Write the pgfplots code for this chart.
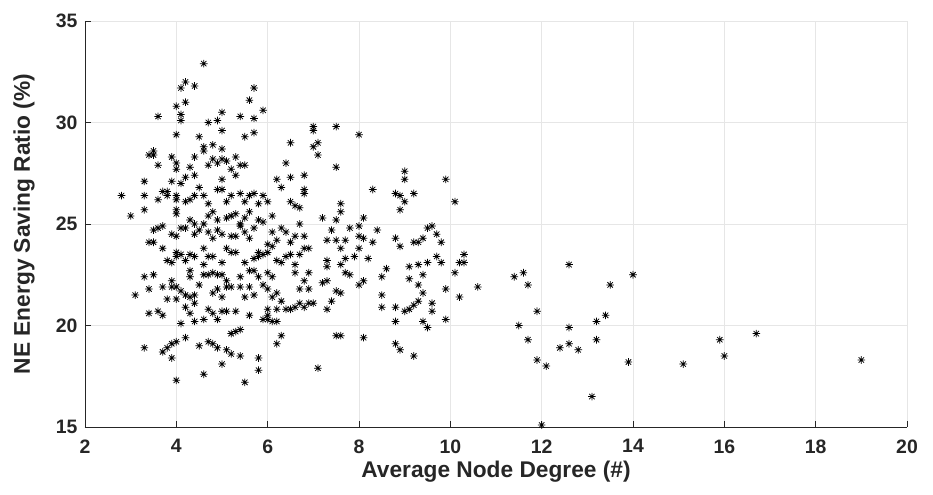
\documentclass[border=0pt]{standalone}
\usepackage{fontspec}
\setmainfont{Liberation Sans}
\usepackage{pgfplots}
\pgfplotsset{compat=1.18}
\pgfdeclareplotmark{masterisk}{%
  \pgfpathmoveto{\pgfqpoint{-\pgfplotmarksize}{0pt}}\pgfpathlineto{\pgfqpoint{\pgfplotmarksize}{0pt}}%
  \pgfpathmoveto{\pgfqpoint{0pt}{-\pgfplotmarksize}}\pgfpathlineto{\pgfqpoint{0pt}{\pgfplotmarksize}}%
  \pgfpathmoveto{\pgfqpoint{-0.707\pgfplotmarksize}{-0.707\pgfplotmarksize}}\pgfpathlineto{\pgfqpoint{0.707\pgfplotmarksize}{0.707\pgfplotmarksize}}%
  \pgfpathmoveto{\pgfqpoint{-0.707\pgfplotmarksize}{0.707\pgfplotmarksize}}\pgfpathlineto{\pgfqpoint{0.707\pgfplotmarksize}{-0.707\pgfplotmarksize}}%
  \pgfusepathqstroke}
\definecolor{axgray}{RGB}{38,38,38}
\definecolor{gridgray}{RGB}{230,230,230}
\begin{document}
\begin{tikzpicture}
\begin{axis}[
  scale only axis, width=822bp, height=406bp,
  xmin=2, xmax=20, ymin=15, ymax=35,
  xtick={2,4,...,20}, ytick={15,20,...,35},
  axis x line*=bottom, axis y line*=left,
  axis line style={axgray, line width=0.8pt},
  x axis line style={-}, y axis line style={-},
  tick align=inside, major tick length=6bp,
  tick style={axgray, line width=0.8pt},
  grid=major, major grid style={gridgray, line width=0.8pt},
  /pgf/number format/assume math mode=true,
  ticklabel style={font=\fontsize{19.5}{21}\selectfont\bfseries, text=axgray},
  xticklabel style={yshift=-9bp},
  yticklabel style={xshift=-4bp},
  xlabel={\fontsize{22.8}{25}\selectfont\bfseries Average Node Degree (\#)},
  ylabel={\fontsize{22.8}{25}\selectfont\bfseries NE Energy Saving Ratio (\%)},
  xlabel style={text=axgray, at={(axis description cs:0.5,0)}, anchor=center, yshift=-45bp},
  ylabel style={text=axgray, at={(axis description cs:0,0.5)}, anchor=center, yshift=61bp},
  clip=false,
]
\addplot[only marks, mark=masterisk, mark size=3.8bp, mark options={black, line width=0.75pt}] coordinates {
(2.8,26.4)(3.0,25.4)(3.1,21.5)
(3.3,27.1)(3.3,26.4)(3.3,25.7)(3.3,22.4)(3.3,18.9)
(3.4,28.4)(3.4,24.1)(3.4,21.8)(3.4,20.6)
(3.5,28.6)(3.5,28.4)(3.5,24.1)(3.5,24.7)(3.5,22.5)
(3.6,30.3)(3.6,27.9)(3.6,26.2)(3.6,24.8)(3.6,20.7)
(3.7,26.6)(3.7,24.9)(3.7,23.8)(3.7,21.9)(3.7,20.5)(3.7,18.7)
(3.8,26.6)(3.8,26.4)(3.8,23.2)(3.8,21.3)(3.8,18.9)
(3.9,28.3)(3.9,27.1)(3.9,24.5)(3.9,23.1)(3.9,22.2)(3.9,21.9)(3.9,19.1)(3.9,18.4)
(4.0,30.8)(4.0,29.4)(4.0,28.0)(4.0,27.7)(4.0,26.4)(4.0,26.2)(4.0,25.7)(4.0,25.5)(4.0,24.4)(4.0,23.6)(4.0,23.4)(4.0,21.9)(4.0,21.3)(4.0,19.2)(4.0,17.3)
(4.1,31.7)(4.1,30.4)(4.1,30.1)(4.1,27.0)(4.1,24.8)(4.1,23.5)(4.1,21.7)(4.1,20.1)
(4.2,32.0)(4.2,31.0)(4.2,27.3)(4.2,26.1)(4.2,24.8)(4.2,23.2)(4.2,21.5)(4.2,20.9)(4.2,19.4)
(4.3,27.8)(4.3,26.2)(4.3,25.2)(4.3,23.5)(4.3,22.7)(4.3,22.4)(4.3,21.4)(4.3,20.6)
(4.4,31.8)(4.4,28.3)(4.4,27.4)(4.4,26.4)(4.4,25.0)(4.4,24.5)(4.4,23.4)(4.4,21.5)(4.4,21.1)(4.4,20.2)
(4.5,29.3)(4.5,26.8)(4.5,24.7)(4.5,22.0)(4.5,19.0)
(4.6,32.9)(4.6,28.8)(4.6,28.6)(4.6,26.4)(4.6,25.0)(4.6,23.8)(4.6,23.0)(4.6,22.5)(4.6,20.3)(4.6,17.6)
(4.7,30.0)(4.7,27.9)(4.7,26.0)(4.7,25.4)(4.7,24.6)(4.7,23.4)(4.7,22.5)(4.7,20.8)(4.7,19.2)
(4.8,28.9)(4.8,28.2)(4.8,25.6)(4.8,24.3)(4.8,23.4)(4.8,22.6)(4.8,21.6)(4.8,20.6)(4.8,19.1)
(4.9,30.1)(4.9,28.0)(4.9,26.7)(4.9,25.2)(4.9,24.7)(4.9,22.5)(4.9,21.8)(4.9,20.3)(4.9,18.9)
(5.0,30.5)(5.0,29.6)(5.0,28.7)(5.0,28.2)(5.0,27.2)(5.0,26.7)(5.0,24.5)(5.0,23.1)(5.0,22.5)(5.0,21.4)(5.0,20.7)(5.0,18.1)
(5.1,28.1)(5.1,26.1)(5.1,25.3)(5.1,23.8)(5.1,22.2)(5.1,21.9)(5.1,20.7)(5.1,18.8)
(5.2,27.7)(5.2,26.4)(5.2,25.4)(5.2,24.4)(5.2,23.6)(5.2,21.9)(5.2,19.6)(5.2,18.6)
(5.3,28.3)(5.3,27.4)(5.3,25.5)(5.3,24.4)(5.3,23.6)(5.3,20.7)(5.3,19.7)
(5.4,30.3)(5.4,27.9)(5.4,26.5)(5.4,25.0)(5.4,24.9)(5.4,22.4)(5.4,21.9)(5.4,19.8)(5.4,18.5)
(5.5,29.3)(5.5,27.9)(5.5,26.1)(5.5,25.3)(5.5,24.6)(5.5,23.1)(5.5,21.4)(5.5,17.2)
(5.6,31.1)(5.6,26.4)(5.6,25.6)(5.6,24.3)(5.6,22.7)(5.6,21.9)(5.6,20.5)
(5.7,31.7)(5.7,30.2)(5.7,29.5)(5.7,26.5)(5.7,24.8)(5.7,23.3)(5.7,22.7)(5.7,21.5)
(5.8,26.0)(5.8,25.2)(5.8,23.6)(5.8,23.4)(5.8,22.4)(5.8,18.4)(5.8,17.8)
(5.9,30.6)(5.9,26.4)(5.9,25.1)(5.9,23.5)(5.9,22.0)(5.9,20.3)
(6.0,26.1)(6.0,24.0)(6.0,23.6)(6.0,22.6)(6.0,21.8)(6.0,20.8)(6.0,20.5)(6.0,20.3)
(6.1,25.4)(6.1,24.6)(6.1,23.9)(6.1,22.4)(6.1,21.4)(6.1,20.2)
(6.2,27.2)(6.2,24.2)(6.2,23.2)(6.2,21.6)(6.2,20.8)(6.2,20.2)(6.2,19.1)
(6.3,26.8)(6.3,24.8)(6.3,23.1)(6.3,21.2)(6.3,19.5)
(6.4,28.0)(6.4,24.6)(6.4,23.4)(6.4,20.8)
(6.5,29.0)(6.5,27.3)(6.5,26.1)(6.5,24.1)(6.5,23.5)(6.5,20.8)
(6.6,25.9)(6.6,24.4)(6.6,23.0)(6.6,22.6)(6.6,20.9)
(6.7,25.8)(6.7,25.0)(6.7,23.5)(6.7,21.8)(6.7,21.1)
(6.8,27.4)(6.8,26.7)(6.8,26.5)(6.8,24.4)(6.8,23.8)(6.8,22.2)(6.8,20.9)
(6.9,23.8)(6.9,22.6)(6.9,21.8)(6.9,21.1)
(7.0,29.8)(7.0,29.6)(7.0,28.8)(7.0,21.1)
(7.1,29.0)(7.1,28.4)(7.1,17.9)
(7.2,25.3)(7.2,22.1)
(7.3,24.2)(7.3,23.2)(7.3,22.9)(7.3,22.2)(7.3,20.8)
(7.4,24.7)(7.4,21.2)
(7.5,29.8)(7.5,27.8)(7.5,25.2)(7.5,24.2)(7.5,21.7)(7.5,19.5)
(7.6,26.0)(7.6,25.6)(7.6,23.8)(7.6,23.0)(7.6,21.6)(7.6,19.5)
(7.7,24.2)(7.7,23.3)(7.7,22.6)
(7.8,24.8)(7.8,22.5)
(7.9,23.4)
(8.0,29.4)(8.0,24.9)(8.0,24.4)(8.0,23.8)(8.0,22.0)
(8.1,25.3)(8.1,24.3)(8.1,22.2)(8.1,19.4)
(8.2,23.3)
(8.3,26.7)(8.3,24.1)
(8.4,24.7)
(8.5,22.4)(8.5,21.5)(8.5,20.9)
(8.6,22.8)
(8.8,26.5)(8.8,24.3)(8.8,20.9)(8.8,20.2)(8.8,19.1)
(8.9,26.4)(8.9,25.7)(8.9,23.9)(8.9,18.8)
(9.0,27.6)(9.0,27.2)(9.0,26.1)(9.0,20.7)
(9.1,22.9)(9.1,22.3)(9.1,20.8)
(9.2,26.5)(9.2,24.1)(9.2,21.0)(9.2,18.5)
(9.3,24.1)(9.3,23.0)(9.3,22.0)(9.3,21.2)
(9.4,24.3)(9.4,22.5)(9.4,21.6)(9.4,20.2)
(9.5,24.8)(9.5,23.1)(9.5,19.9)
(9.6,24.9)(9.6,21.1)(9.6,20.7)
(9.7,24.5)(9.7,23.4)
(9.8,24.1)(9.8,23.1)
(9.9,27.2)(9.9,21.8)(9.9,20.3)
(10.1,26.1)(10.1,22.6)
(10.2,23.1)(10.2,21.4)
(10.3,23.5)(10.3,23.1)
(10.6,21.9)(11.4,22.4)(11.6,22.6)(11.5,20.0)(11.7,22.0)(11.7,19.3)(11.9,20.7)(11.9,18.3)
(12.1,18.0)(12.0,15.1)(12.4,18.9)(12.6,23.0)(12.6,19.9)(12.6,19.1)(12.8,18.8)(13.1,16.5)
(13.2,20.2)(13.2,19.3)(13.4,20.5)(13.5,22.0)(14.0,22.5)(13.9,18.2)(15.1,18.1)(15.9,19.3)
(16.0,18.5)(16.7,19.6)(19.0,18.3)
};
\end{axis}
\useasboundingbox (-85bp,-68bp) rectangle (848bp,427bp);
\end{tikzpicture}
\end{document}
